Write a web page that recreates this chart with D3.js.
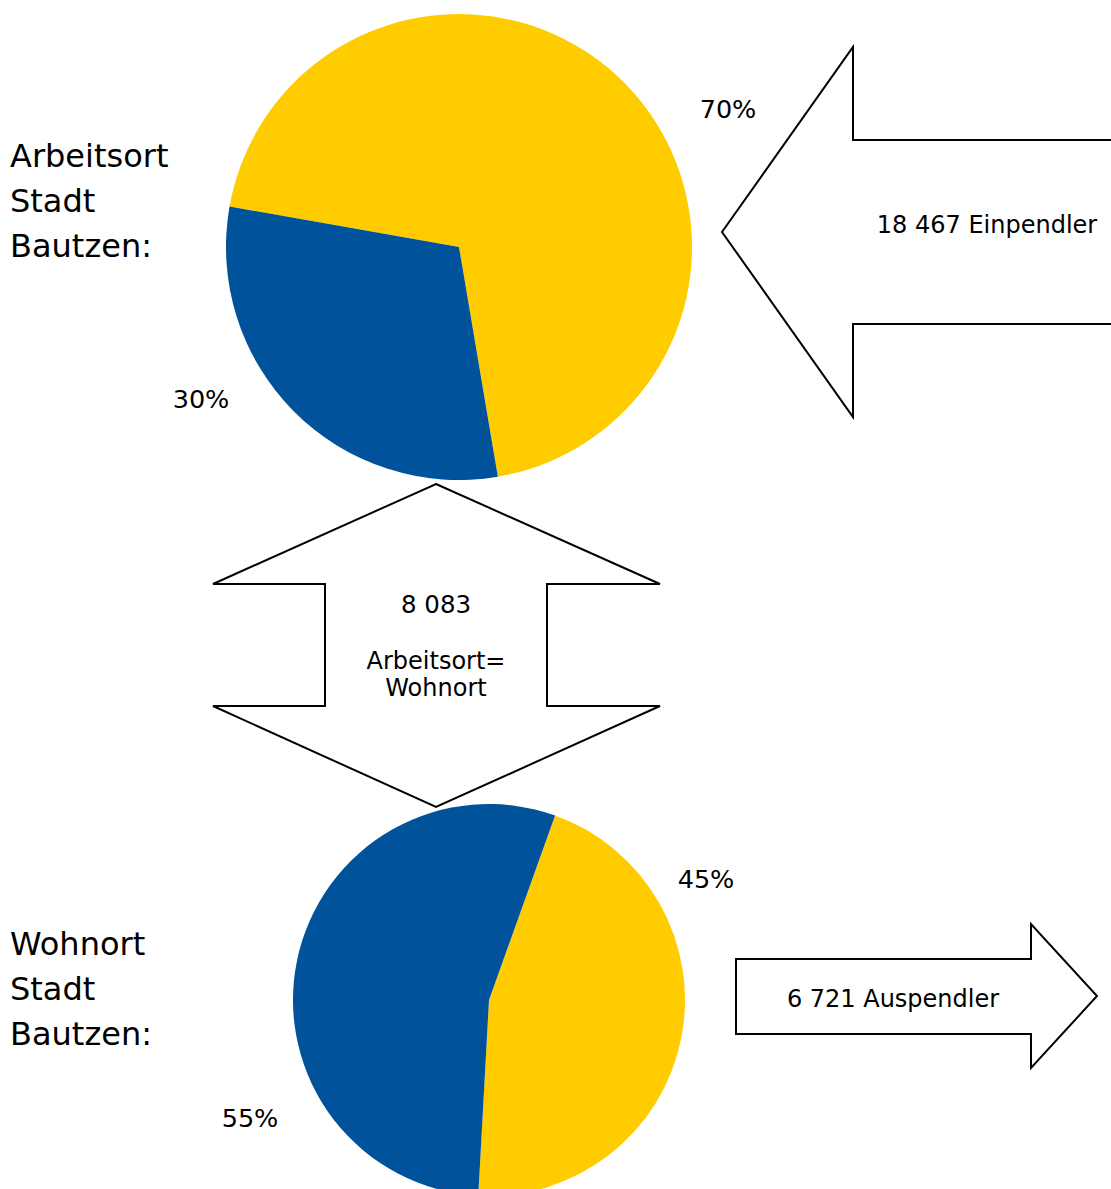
<!DOCTYPE html>
<html>
<head>
<meta charset="utf-8">
<script src="https://cdn.jsdelivr.net/npm/d3@7"></script>
<style>
  html, body { margin: 0; padding: 0; background: #fff; }
  svg { display: block; }
  text { font-family: "DejaVu Sans", Verdana, sans-serif; fill: #000; }
</style>
</head>
<body>
<svg id="chart" width="1111" height="1189"></svg>
<script>
// ---- data ----
const categories = ["Pendler", "Arbeitsort=Wohnort"];
const topValues = [18467, 8083];      // Arbeitsort Stadt Bautzen: Einpendler vs. Arbeitsort=Wohnort
const bottomValues = [6721, 8083];    // Wohnort Stadt Bautzen: Auspendler vs. Arbeitsort=Wohnort
const topPercentLabels = ["70%", "30%"];
const bottomPercentLabels = ["45%", "55%"];
const topTitle = ["Arbeitsort", "Stadt", "Bautzen:"];
const bottomTitle = ["Wohnort", "Stadt", "Bautzen:"];
const einpendlerLabel = "18 467 Einpendler";
const auspendlerLabel = "6 721 Auspendler";
const sameLabel = ["8 083", "Arbeitsort=", "Wohnort"];

// ---- drawing ----
const svg = d3.select("#chart");
const colors = d3.scaleOrdinal().domain(categories).range(["#FFCC00", "#00529B"]);
const deg = Math.PI / 180;

function drawPie(values, cx, cy, r, start) {
  const pie = d3.pie().sort(null).startAngle(start * deg).endAngle(start * deg + 2 * Math.PI);
  const arc = d3.arc().innerRadius(0).outerRadius(r);
  const g = svg.append("g").attr("transform", `translate(${cx},${cy})`);
  g.selectAll("path").data(pie(values)).join("path")
    .attr("d", arc)
    .attr("fill", (d, i) => colors(categories[i]));
}

drawPie(topValues, 459, 247, 233, 280);
drawPie(bottomValues, 489, 1000, 196, 19.7);

// arrows
const line = d3.line();
function arrow(points) {
  svg.append("path")
    .attr("d", line(points) + "Z")
    .attr("fill", "#fff")
    .attr("stroke", "#000")
    .attr("stroke-width", 2)
    .attr("stroke-linejoin", "miter");
}
// Einpendler arrow (pointing left)
arrow([[722, 232], [853, 47], [853, 140], [1125, 140], [1125, 324], [853, 324], [853, 417]]);
// double arrow (up/down)
arrow([[436, 484], [660, 584], [547, 584], [547, 706], [660, 706], [436, 807],
       [213, 706], [325, 706], [325, 584], [213, 584]]);
// Auspendler arrow (pointing right)
arrow([[736, 959], [1031, 959], [1031, 924], [1097, 996], [1031, 1068], [1031, 1034], [736, 1034]]);

// titles
function block(lines, x, y0, step, size, anchor) {
  lines.forEach((t, i) => {
    svg.append("text")
      .attr("x", x).attr("y", y0 + i * step)
      .attr("font-size", size)
      .attr("text-anchor", anchor)
      .text(t);
  });
}
block(topTitle, 10, 167, 45, 32, "start");
block(bottomTitle, 10, 955, 45, 32, "start");

// percentage labels
block([topPercentLabels[0]], 728, 118, 0, 25.5, "middle");
block([topPercentLabels[1]], 201, 408, 0, 25.5, "middle");
block([bottomPercentLabels[0]], 706, 888, 0, 25.5, "middle");
block([bottomPercentLabels[1]], 250, 1127, 0, 25.5, "middle");

// arrow labels
block([einpendlerLabel], 987, 233, 0, 24, "middle");
block([auspendlerLabel], 893, 1007, 0, 24, "middle");
block([sameLabel[0]], 436, 613, 0, 24.5, "middle");
block([sameLabel[1], sameLabel[2]], 436, 669, 27, 24, "middle");
</script>
</body>
</html>
